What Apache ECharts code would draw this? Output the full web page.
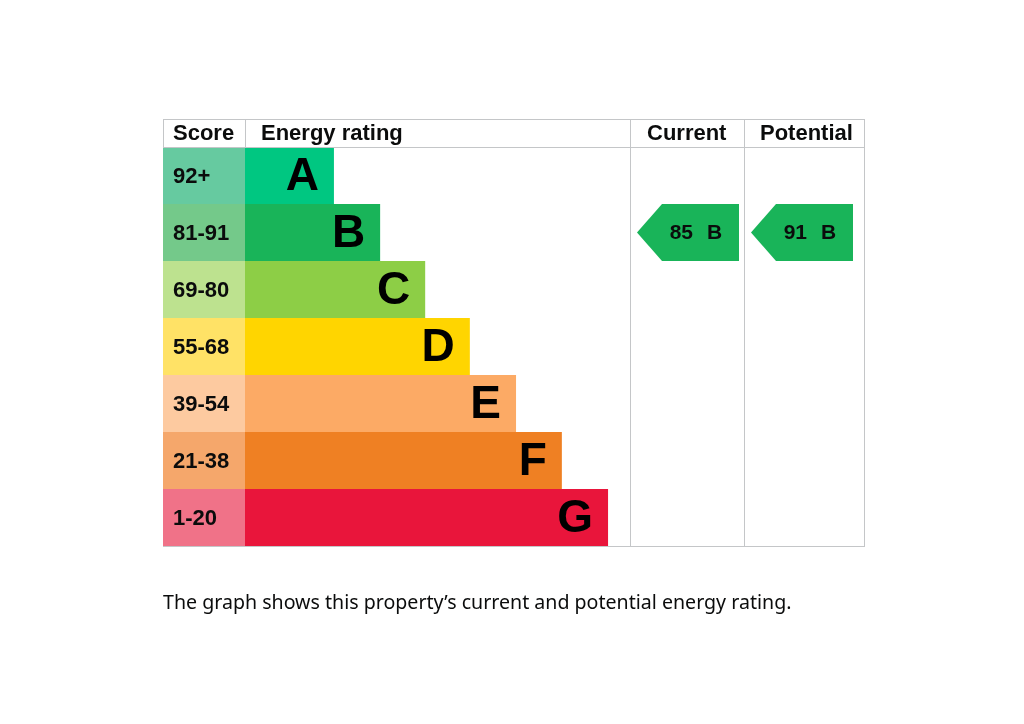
<!DOCTYPE html>
<html>
<head>
<meta charset="utf-8">
<title>Energy rating</title>
<script src="https://cdn.jsdelivr.net/npm/echarts@6/dist/echarts.min.js"></script>
<style>
html, body { margin: 0; padding: 0; background: #fff; }
#chart { width: 1024px; height: 724px; }
</style>
</head>
<body>
<div id="chart"></div>
<script>
// rating bands, top to bottom
var bands = ['A', 'B', 'C', 'D', 'E', 'F', 'G'];
var scoreRanges = ['92+', '81-91', '69-80', '55-68', '39-54', '21-38', '1-20'];
var bandMin = [92, 81, 69, 55, 39, 21, 1];
// bar length in % of the rating column
var barLengths = [23.1, 35.1, 46.8, 58.4, 70.4, 82.3, 94.3];
var bandColors = ['#00c781', '#19b459', '#8dce46', '#ffd500', '#fcaa65', '#ef8023', '#e9153b'];
var scoreColors = ['#66caa0', '#74c98a', '#bde28f', '#ffe266', '#fdcaa0', '#f5a76b', '#f07288'];

var currentScore = 85;
var potentialScore = 91;

function bandOf(score) {
  for (var i = 0; i < bandMin.length; i++) {
    if (score >= bandMin[i]) return i;
  }
  return bandMin.length - 1;
}

var font = '"Liberation Sans", Arial, sans-serif';
var ink = '#0b0c0c';
var lineColor = '#c4c6c8';

function arrowItem(params, api) {
  var cs = params.coordSys;
  var y = api.coord([0, api.value(1)])[1];
  var h = api.size([0, 1])[1];
  var x0 = cs.x + 7, x1 = x0 + 102, tip = 25;
  return {
    type: 'group',
    children: [
      {
        type: 'polygon',
        shape: { points: [[x0, y], [x0 + tip, y - h / 2], [x1, y - h / 2], [x1, y + h / 2], [x0 + tip, y + h / 2]] },
        style: { fill: bandColors[api.value(1)] }
      },
      {
        type: 'text',
        style: { text: String(api.value(2)), x: x0 + 56, y: y + 1, align: 'right', verticalAlign: 'middle',
          font: 'bold 21px ' + font, fill: ink }
      },
      {
        type: 'text',
        style: { text: bands[api.value(1)], x: x0 + 70, y: y + 1, align: 'left', verticalAlign: 'middle',
          font: 'bold 21px ' + font, fill: ink }
      }
    ]
  };
}

function headText(txt, x) {
  return { type: 'text', left: x, top: 123, style: { text: txt, font: 'bold 22px ' + font, fill: ink } };
}
function hline(y, x1, x2) {
  return { type: 'line', shape: { x1: x1, y1: y, x2: x2, y2: y }, style: { stroke: lineColor, lineWidth: 1 }, z: 10 };
}
function vline(x, y1, y2) {
  return { type: 'line', shape: { x1: x, y1: y1, x2: x, y2: y2 }, style: { stroke: lineColor, lineWidth: 1 }, z: 10 };
}

var chart = echarts.init(document.getElementById('chart'));
var yCat = { type: 'category', data: bands, inverse: true, show: false };

var option = {
  backgroundColor: '#fff',
  animation: false,
  grid: [
    { left: 163, top: 147, width: 82, height: 399 },
    { left: 245, top: 147, width: 385, height: 399 },
    { left: 630, top: 147, width: 114, height: 399 },
    { left: 744, top: 147, width: 120, height: 399 }
  ],
  xAxis: [
    { gridIndex: 0, type: 'value', min: 0, max: 1, show: false },
    { gridIndex: 1, type: 'value', min: 0, max: 100, show: false },
    { gridIndex: 2, type: 'value', min: 0, max: 1, show: false },
    { gridIndex: 3, type: 'value', min: 0, max: 1, show: false }
  ],
  yAxis: [
    Object.assign({ gridIndex: 0 }, yCat),
    Object.assign({ gridIndex: 1 }, yCat),
    Object.assign({ gridIndex: 2 }, yCat),
    Object.assign({ gridIndex: 3 }, yCat)
  ],
  series: [
    {
      name: 'Score',
      type: 'bar',
      xAxisIndex: 0, yAxisIndex: 0,
      barCategoryGap: '0%',
      data: scoreRanges.map(function (r, i) {
        return { value: 1, itemStyle: { color: scoreColors[i] } };
      }),
      label: {
        show: true, position: 'insideLeft', distance: 10, offset: [0, 1],
        formatter: function (p) { return scoreRanges[p.dataIndex]; },
        fontFamily: font, fontWeight: 'bold', fontSize: 22, color: ink
      }
    },
    {
      name: 'Energy rating',
      type: 'bar',
      xAxisIndex: 1, yAxisIndex: 1,
      barCategoryGap: '0%',
      data: barLengths.map(function (v, i) {
        return { value: v, itemStyle: { color: bandColors[i] } };
      }),
      label: {
        show: true, position: 'insideRight', distance: 15, offset: [0, 2],
        formatter: function (p) { return bands[p.dataIndex]; },
        fontFamily: font, fontWeight: 'bold', fontSize: 46, color: '#000'
      }
    },
    {
      name: 'Current',
      type: 'custom',
      xAxisIndex: 2, yAxisIndex: 2,
      renderItem: arrowItem,
      data: [[0, bandOf(currentScore), currentScore]]
    },
    {
      name: 'Potential',
      type: 'custom',
      xAxisIndex: 3, yAxisIndex: 3,
      renderItem: arrowItem,
      data: [[0, bandOf(potentialScore), potentialScore]]
    }
  ],
  graphic: [
    hline(119.5, 163, 865),
    hline(147.5, 163, 865),
    hline(546.5, 163, 865),
    vline(163.5, 119, 147),
    vline(245.5, 119, 147),
    vline(630.5, 119, 547),
    vline(744.5, 119, 547),
    vline(864.5, 119, 547),
    headText('Score', 173),
    headText('Energy rating', 261),
    headText('Current', 647),
    headText('Potential', 760),
    {
      type: 'text', left: 163, top: 593,
      style: { text: 'The graph shows this property\u2019s current and potential energy rating.',
        font: '19.6px "Noto Sans", sans-serif', fill: ink }
    }
  ]
};
chart.setOption(option);
</script>
</body>
</html>
